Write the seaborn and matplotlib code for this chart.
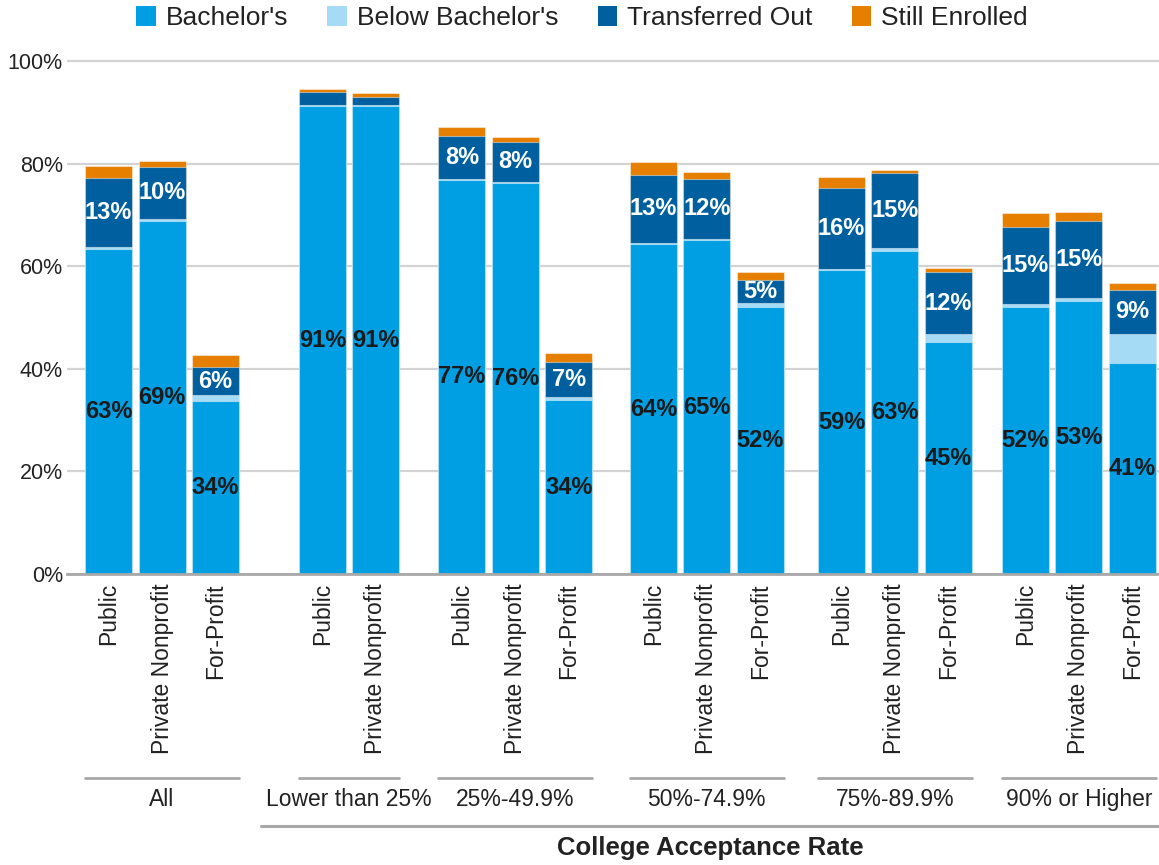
import matplotlib
matplotlib.use("Agg")
import pandas as pd
import matplotlib.pyplot as plt
import matplotlib.transforms as mtransforms
from matplotlib.patches import Patch
import seaborn as sns

# Data (percent of students)
groups = ["All", "Lower than 25%", "25%-49.9%", "50%-74.9%", "75%-89.9%", "90% or Higher"]
bar_group = [0, 0, 0, 1, 1, 2, 2, 2, 3, 3, 3, 4, 4, 4, 5, 5, 5]
sectors = ["Public", "Private Nonprofit", "For-Profit",
           "Public", "Private Nonprofit",
           "Public", "Private Nonprofit", "For-Profit",
           "Public", "Private Nonprofit", "For-Profit",
           "Public", "Private Nonprofit", "For-Profit",
           "Public", "Private Nonprofit", "For-Profit"]
bachelors = [63.4, 68.9, 33.7, 91.2, 91.2, 76.9, 76.2, 33.9, 64.3, 65.1, 52.0,
             59.2, 63.0, 45.2, 52.1, 53.2, 41.1]
below_bachelors = [0.4, 0.3, 1.1, 0.2, 0.2, 0.2, 0.2, 0.7, 0.3, 0.2, 0.8,
                   0.3, 0.5, 1.5, 0.5, 0.7, 5.7]
transferred_out = [13.4, 10.2, 5.6, 2.6, 1.5, 8.3, 7.9, 6.7, 13.2, 11.8, 4.6,
                   15.7, 14.6, 12.2, 15.0, 15.0, 8.6]
still_enrolled = [2.4, 1.1, 2.3, 0.5, 0.9, 1.8, 0.8, 1.8, 2.6, 1.2, 1.5,
                  2.2, 0.6, 0.7, 2.8, 1.7, 1.3]

series = ["Bachelor's", "Below Bachelor's", "Transferred Out", "Still Enrolled"]
colors = ["#009fe3", "#a6dbf6", "#00609f", "#e67e00"]

# layout: spacing between groups (in bar slots)
group_gaps = [2.0, 1.61, 1.58, 1.52, 1.44]
bar_width = 0.88

pos = []
x = 0.0
for i, g in enumerate(bar_group):
    if i > 0:
        x += 1.0 if g == bar_group[i - 1] else group_gaps[g - 1]
    pos.append(x)

df = pd.DataFrame({"pos": pos, "sector": sectors, "bach": bachelors,
                   "below": below_bachelors, "transfer": transferred_out,
                   "still": still_enrolled})
df["c1"] = df["bach"]
df["c2"] = df["c1"] + df["below"]
df["c3"] = df["c2"] + df["transfer"]
df["c4"] = df["c3"] + df["still"]

sns.set_theme(style="white")
plt.rcParams["font.family"] = ["Liberation Sans", "DejaVu Sans"]
text_color = "#222222"

fig = plt.figure(figsize=(11.59, 8.65), dpi=100)
H = 865.0
W = 1159.0
ax = fig.add_axes([67 / W, 1 - 574 / H, (W - 67) / W, 515 / H])

# stacked bars: draw cumulative heights from the top layer down
for col, c in zip(["c4", "c3", "c2", "c1"], colors[::-1]):
    sns.barplot(data=df, x="pos", y=col, native_scale=True, color=c,
                saturation=1, width=bar_width, errorbar=None, ax=ax,
                edgecolor=(1, 1, 1, 0.45), linewidth=0.8)

# segment labels
for _, r in df.iterrows():
    ax.text(r["pos"], r["bach"] / 2, f"{r['bach']:.0f}%", ha="center", va="center",
            fontsize=17, fontweight="bold", color="#1a1a1a")
    if r["transfer"] >= 4:
        ax.text(r["pos"], r["c2"] + r["transfer"] / 2, f"{r['transfer']:.0f}%",
                ha="center", va="center", fontsize=17, fontweight="bold",
                color="white")

ax.set_ylim(0, 100.4)
ax.set_xlim(-0.778, 19.65)
ax.set_yticks(range(0, 101, 20))
ax.set_yticklabels([f"{v}%" for v in range(0, 101, 20)])
ax.set_xticks(pos)
ax.set_xticklabels(sectors, rotation=90, va="top", ha="center")
ax.set_xlabel("")
ax.set_ylabel("")
ax.tick_params(axis="y", length=0, pad=3, labelsize=15.5, labelcolor=text_color)
ax.tick_params(axis="x", length=0, pad=6.5, labelsize=16.5, labelcolor=text_color)
ax.yaxis.grid(True, color="#d3d3d3", linewidth=1.6)
ax.set_axisbelow(True)
for s in ["left", "right", "top"]:
    ax.spines[s].set_visible(False)
ax.spines["bottom"].set_color("#a8a8a8")
ax.spines["bottom"].set_linewidth(2)

# group brackets under the tick labels
trans = mtransforms.blended_transform_factory(ax.transData, ax.transAxes)
for gi, name in enumerate(groups):
    gp = [p for p, g in zip(pos, bar_group) if g == gi]
    x0, x1 = min(gp) - bar_width / 2, max(gp) + bar_width / 2
    ax.plot([x0, x1], [-0.397, -0.397], color="#a8a8a8", lw=2,
            transform=trans, clip_on=False)
    ax.text((x0 + x1) / 2, -0.4386, name, ha="center", va="center",
            fontsize=16.5, color=text_color, transform=trans)

ax.plot([0.178, 1.0], [-0.489, -0.489], color="#a8a8a8", lw=2.2,
        transform=ax.transAxes, clip_on=False)
ax.text(0.589, -0.532, "College Acceptance Rate", ha="center", va="center",
        fontsize=18.5, fontweight="bold", color=text_color, transform=ax.transAxes)

handles = [Patch(facecolor=c, edgecolor="none", label=s) for s, c in zip(series, colors)]
fig.legend(handles=handles, loc="center", bbox_to_anchor=(0.502, 1 - 18 / H),
           ncol=4, frameon=False, fontsize=19, handlelength=0.75,
           handleheight=0.78, handletextpad=0.35, columnspacing=1.5,
           labelcolor=text_color)

fig.savefig("out.png", dpi=100)
